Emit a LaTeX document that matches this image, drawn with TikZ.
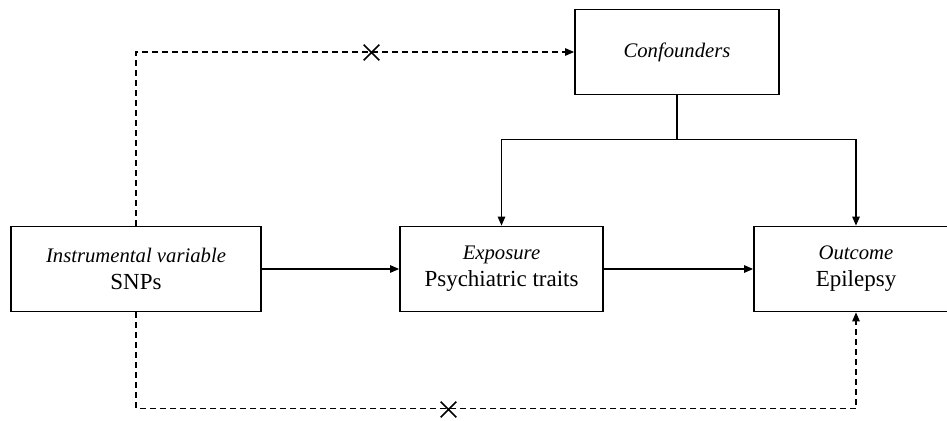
\documentclass[tikz,border=0pt]{standalone}
\usepackage{fontspec}
\setmainfont{Liberation Serif}
\usetikzlibrary{arrows.meta,shapes.misc}
\begin{document}
\begin{tikzpicture}[x=1pt,y=-1pt,
  box/.style={draw, line width=1.8pt, inner sep=0pt, align=center,
    minimum height=85pt, font=\fontsize{23}{27}\selectfont},
  conn/.style={line width=1.2pt, -{Triangle[length=9pt,width=7.5pt]}},
  dconn/.style={line width=1.2pt, dash pattern=on 6pt off 4pt},
  xmark/.style={cross out, draw, line width=1.6pt, minimum size=14pt, inner sep=0pt}]
\useasboundingbox (0,0) rectangle (947,420);
\begin{scope}
\clip (0,0) rectangle (947,420);
\node[box, minimum width=204pt] (conf) at (677,52) {{\fontsize{20.7}{27}\selectfont\itshape Confounders}};
\node[box, minimum width=250pt] (iv) at (136,269) {{\fontsize{20.7}{27}\selectfont\itshape Instrumental variable}\\SNPs};
\node[box, minimum width=203pt] (exp) at (501.5,269) {{\fontsize{20.7}{27}\selectfont\itshape Exposure}\\Psychiatric traits};
\node[box, minimum width=204pt] (out) at (856,269) {{\fontsize{20.7}{27}\selectfont\itshape Outcome}\\Epilepsy};
\end{scope}
\coordinate (j) at (677,139.5);
\draw[line width=1.2pt] (conf.south) -- (j);
\draw[conn] (j) -| (exp.north);
\draw[conn] (j) -| (out.north);
\draw[conn] (iv.east) -- (exp.west);
\draw[conn] (exp.east) -- (out.west);
\draw[dconn, -{Triangle[length=9pt,width=7.5pt]}] (iv.north) |- (conf.west);
\coordinate (bl) at (136,408.5);
\coordinate (br) at (856,408.5);
\draw[dconn, -{Triangle[length=9pt,width=7.5pt]}] (iv.south) -- (bl) -- (br) -- (out.south);
\node[xmark] (x1) at (371.5,52.5) {};
\node[xmark] (x2) at (448.5,409.5) {};
\end{tikzpicture}
\end{document}
